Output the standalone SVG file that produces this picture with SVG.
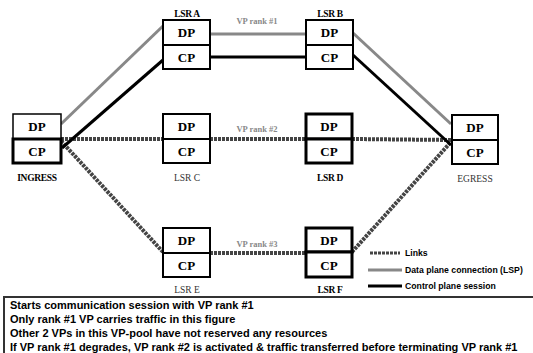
<svg xmlns="http://www.w3.org/2000/svg" width="533" height="353" viewBox="0 0 533 353">
<style>
.box{fill:#fff;stroke:#000;stroke-width:2}
.thick{stroke-width:3}
.pl{font-family:"Liberation Serif",serif;font-weight:bold;font-size:13px;text-anchor:middle;fill:#000}
.nl{font-family:"Liberation Serif",serif;font-weight:bold;font-size:9.5px;text-anchor:middle;fill:#000;letter-spacing:-0.3px}
.nlg{font-family:"Liberation Serif",serif;font-size:9.5px;text-anchor:middle;fill:#333}
.vp{font-family:"Liberation Serif",serif;font-weight:bold;font-size:8.5px;text-anchor:middle;fill:#888}
.link{stroke:#444;stroke-width:4;stroke-dasharray:3 1;fill:none}
.data{stroke:#888;stroke-width:3;fill:none}
.ctrl{stroke:#000;stroke-width:3;fill:none}
.leg{font-family:"Liberation Sans",Arial,sans-serif;font-weight:bold;font-size:8.7px;fill:#000}
.note{font-family:"Liberation Sans",Arial,sans-serif;font-weight:bold;font-size:11px;fill:#000}
</style>
<g id="connectors">
<line class="link" x1="61" y1="139" x2="163" y2="139"/>
<line class="link" x1="210" y1="139" x2="306" y2="139"/>
<line class="link" x1="352" y1="139" x2="452" y2="140"/>
<line class="link" x1="61" y1="141" x2="163" y2="252"/>
<line class="link" x1="210" y1="253" x2="306" y2="253"/>
<line class="link" x1="352" y1="252" x2="451" y2="142"/>
<line class="data" x1="61" y1="124" x2="163" y2="26"/>
<line class="data" x1="210" y1="34" x2="306" y2="34"/>
<line class="data" x1="353" y1="33" x2="451" y2="124"/>
<line class="ctrl" x1="62" y1="148" x2="163" y2="60"/>
<line class="ctrl" x1="210" y1="57" x2="306" y2="57"/>
<line class="ctrl" x1="353" y1="55" x2="451" y2="145"/>
</g>
<text class="vp" x="257" y="24">VP rank #1</text>
<text class="vp" x="257" y="132">VP rank #2</text>
<text class="vp" x="257" y="247">VP rank #3</text>
<g id="lsrA">
<rect class="box" x="163" y="20" width="47" height="25"/>
<rect class="box" x="163" y="45" width="47" height="24"/>
<text class="pl" x="186.5" y="37">DP</text>
<text class="pl" x="186.5" y="62">CP</text>
<text class="nl" x="187" y="17">LSR A</text>
</g>
<g id="lsrB">
<rect class="box" x="306" y="20" width="47" height="25"/>
<rect class="box" x="306" y="45" width="47" height="24"/>
<text class="pl" x="329.5" y="37">DP</text>
<text class="pl" x="329.5" y="62">CP</text>
<text class="nl" x="330" y="17">LSR B</text>
</g>
<g id="ingress">
<rect class="box" x="13" y="114" width="48" height="25" style="stroke-width:1.5"/>
<rect class="box thick" x="13" y="139" width="48" height="24"/>
<text class="pl" x="37" y="131">DP</text>
<text class="pl" x="37" y="156">CP</text>
<text class="nl" x="37" y="181">INGRESS</text>
</g>
<g id="lsrC">
<rect class="box" x="163" y="114" width="47" height="25"/>
<rect class="box" x="163" y="139" width="47" height="24"/>
<text class="pl" x="186.5" y="131">DP</text>
<text class="pl" x="186.5" y="156">CP</text>
<text class="nlg" x="187" y="181">LSR C</text>
</g>
<g id="lsrD">
<rect class="box thick" x="306" y="114" width="46" height="25"/>
<rect class="box thick" x="306" y="139" width="46" height="24"/>
<text class="pl" x="329" y="131">DP</text>
<text class="pl" x="329" y="156">CP</text>
<text class="nl" x="330" y="181">LSR D</text>
</g>
<g id="egress">
<rect class="box" x="452" y="115" width="46" height="25"/>
<rect class="box" x="452" y="140" width="46" height="24"/>
<text class="pl" x="475" y="132">DP</text>
<text class="pl" x="475" y="157">CP</text>
<text class="nlg" x="475" y="182">EGRESS</text>
</g>
<g id="lsrE">
<rect class="box" x="163" y="228" width="47" height="25"/>
<rect class="box" x="163" y="253" width="47" height="24"/>
<text class="pl" x="186.5" y="245">DP</text>
<text class="pl" x="186.5" y="270">CP</text>
<text class="nlg" x="187" y="293">LSR E</text>
</g>
<g id="lsrF">
<rect class="box thick" x="306" y="228" width="46" height="24"/>
<rect class="box thick" x="306" y="252" width="46" height="25"/>
<text class="pl" x="329" y="245">DP</text>
<text class="pl" x="329" y="270">CP</text>
<text class="nl" x="330" y="293">LSR F</text>
</g>
<g id="legend">
<line class="link" x1="370" y1="253" x2="400" y2="253" style="stroke-width:3"/>
<line class="data" x1="368" y1="270" x2="402" y2="270"/>
<line class="ctrl" x1="368" y1="286" x2="402" y2="286"/>
<text class="leg" x="405" y="256">Links</text>
<text class="leg" x="405" y="273">Data plane connection (LSP)</text>
<text class="leg" x="405" y="289">Control plane session</text>
</g>
<g id="note">
<path d="M4 353 V297 H533" fill="none" stroke="#333" stroke-width="2"/>
<text class="note" x="10" y="309">Starts communication session with VP rank #1</text>
<text class="note" x="10" y="323">Only rank #1 VP carries traffic in this figure</text>
<text class="note" x="10" y="337">Other 2 VPs in this VP-pool have not reserved any resources</text>
<text class="note" x="10" y="351">If VP rank #1 degrades, VP rank #2 is activated &amp; traffic transferred before terminating VP rank #1</text>
</g>
</svg>
